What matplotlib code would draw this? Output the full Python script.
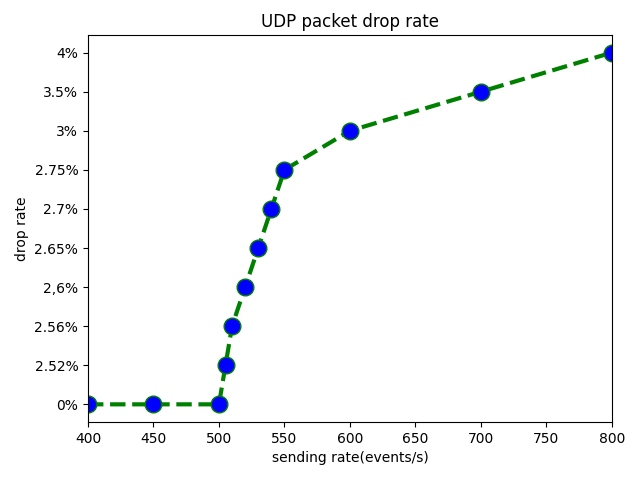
import matplotlib
matplotlib.use('Agg')
import matplotlib.pyplot as plt

rate = [400, 450, 500, 505, 510, 520, 530, 540, 550, 600, 700, 800]
drop = ['0%', '0%', '0%', '2.52%', '2.56%', '2,6%', '2.65%', '2.7%', '2.75%', '3%', '3.5%', '4%']

plt.figure(figsize=(6.4, 4.8), dpi=100)
plt.plot(rate, drop, color='green', linestyle='dashed', linewidth=3,
         marker='o', markerfacecolor='blue', markersize=12)
plt.xlim(400, 800)
plt.xlabel('sending rate(events/s)')
plt.ylabel('drop rate')
plt.title('UDP packet drop rate')
plt.subplots_adjust(left=0.1375, right=0.956, top=0.927, bottom=0.121)
plt.savefig('out.png')
